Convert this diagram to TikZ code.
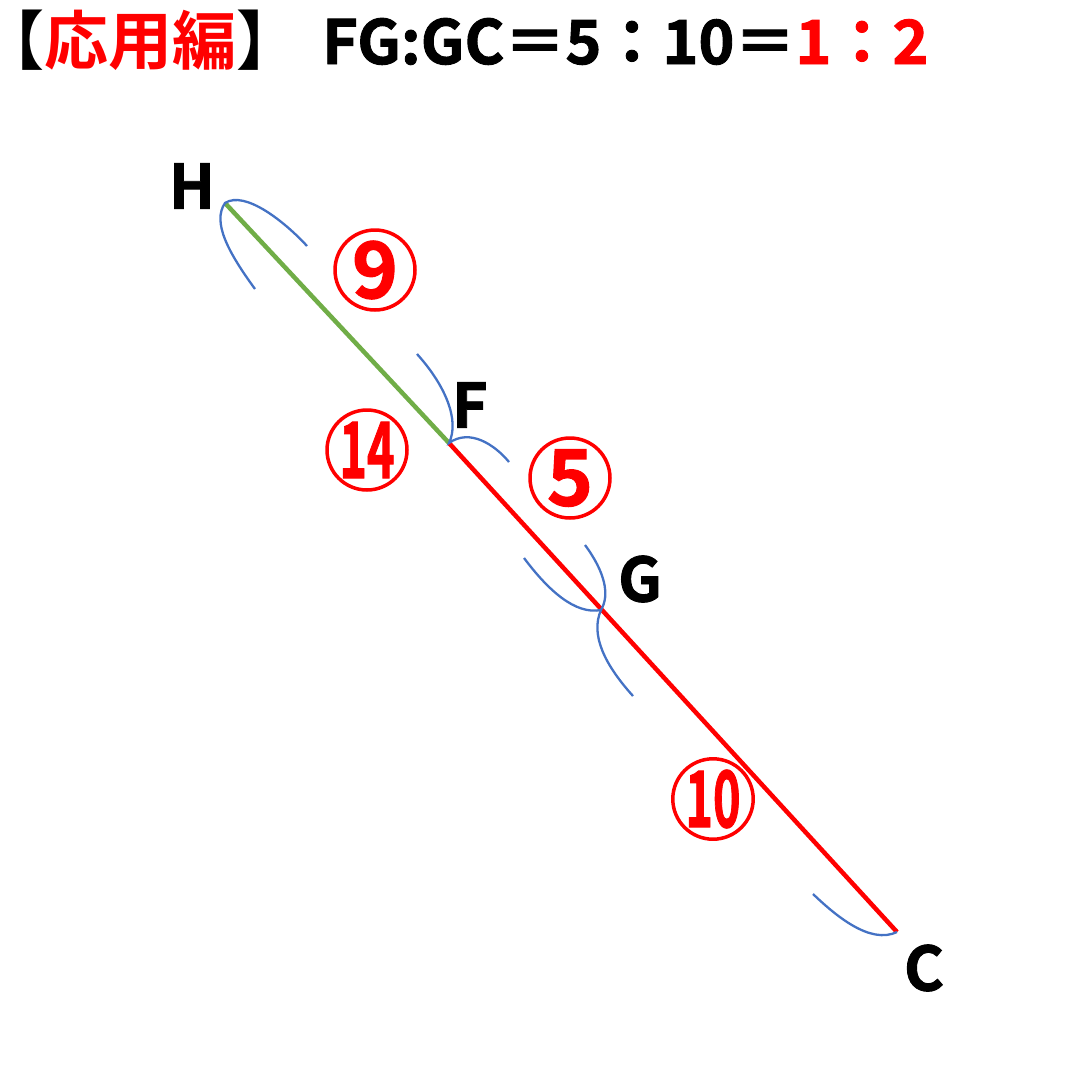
\documentclass[tikz,border=0pt]{standalone}
\usepackage{fontspec}
\newfontfamily\jp{Noto Sans CJK JP}[BoldFont={* Bold}, RawFeature={+halt}]
\newfontfamily\jpnum{Noto Sans CJK JP}[BoldFont={* Bold}, BoldFeatures={FakeBold=1.5}]
\definecolor{myred}{RGB}{255,0,0}
\definecolor{mygreen}{RGB}{112,173,71}
\definecolor{myblue}{RGB}{68,114,196}
\tikzset{
  arcline/.style={draw=myblue, line width=2.3pt},
  ptlabel/.style={font=\jpnum\bfseries\fontsize{61}{70}\selectfont, inner sep=0pt},
  cnum/.style={circle, draw=myred, line width=3.5pt, minimum size=80pt, inner sep=0pt, text=myred, font=\jpnum\bfseries\fontsize{78}{80}\selectfont},
}
\begin{document}
\begin{tikzpicture}[x=1pt,y=-1pt]
\useasboundingbox (0,0) rectangle (1080,1080);
% title
\node[anchor=base west, inner sep=0pt, font=\jp\bfseries\fontsize{64}{70}\selectfont] (t1) at (12,64) {【\textcolor{myred}{応用編}】};
\node[anchor=base west, inner sep=0pt, font=\jpnum\bfseries\fontsize{61}{70}\selectfont] (t2) at (322,64) {FG:GC＝5：10＝\textcolor{myred}{1：2}};
% points
\coordinate (H) at (225,203);
\coordinate (F) at (449,443);
\coordinate (G) at (601,610);
\coordinate (C) at (897,932);
\draw[mygreen, line width=4.5pt] (H) -- (F);
\draw[myred, line width=4.5pt] (F) -- (C);
% labels
\node[ptlabel] (lH) at (192,186) {H};
\node[ptlabel] (lF) at (470,405) {F};
\node[ptlabel] (lG) at (640,579) {G};
\node[ptlabel] (lC) at (924,968) {C};
% blue arcs
\draw[arcline] (255,289) .. controls (228,252) and (212,222) .. (H) .. controls (245,190) and (285,222) .. (307,246);
\draw[arcline] (417,354) .. controls (445,385) and (460,420) .. (F) .. controls (470,428) and (495,445) .. (509,462);
\draw[arcline] (585,545) .. controls (605,572) and (610,595) .. (G) .. controls (590,635) and (605,665) .. (633,696);
\draw[arcline] (524,558) .. controls (548,590) and (575,615) .. (G);
\draw[arcline] (813,894) .. controls (835,915) and (870,945) .. (C);
% circled numbers
\node[cnum] (n9) at (375,270) {\raisebox{-2pt}{9}};
\node[cnum] (n14) at (367,450) {\scalebox{0.6}[1]{14}};
\node[cnum] (n5) at (570,478) {5};
\node[cnum] (n10) at (713,799) {\scalebox{0.6}[1]{10}};
\end{tikzpicture}
\end{document}
